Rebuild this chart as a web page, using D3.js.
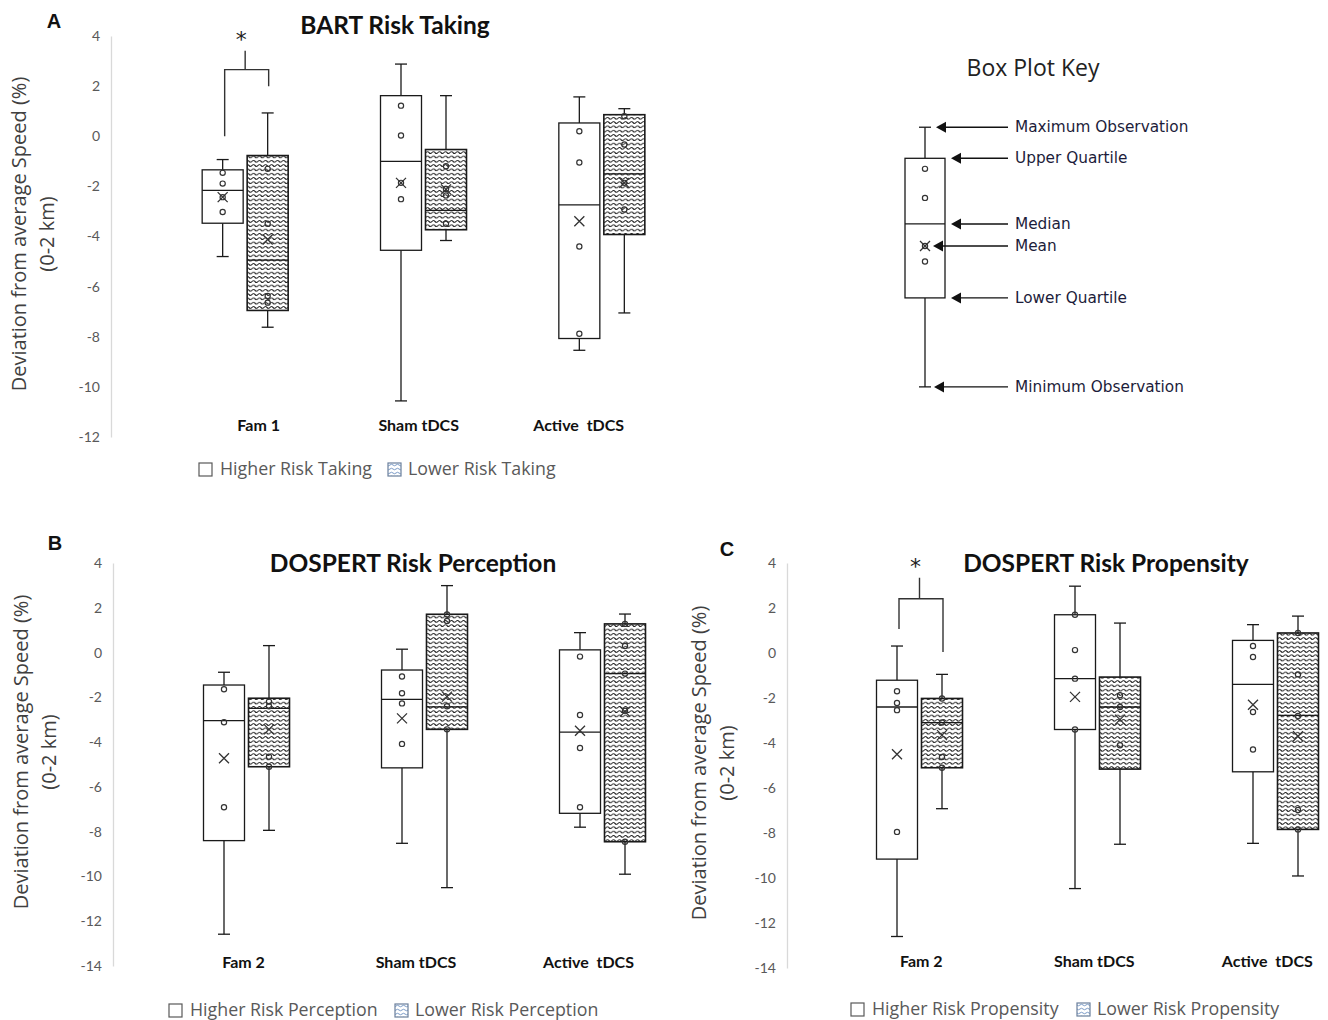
<!DOCTYPE html>
<html><head><meta charset="utf-8">
<script src="https://cdn.jsdelivr.net/npm/d3@7"></script>
<style>body{margin:0;background:#fff}</style>
</head><body>
<script>
// ---------- DATA ----------
// stats rows: [min, lowerQuartile, median, upperQuartile, max, mean]
const bartCategories = ["Fam 1", "Sham tDCS", "Active  tDCS"];
const bartHigherStats = [[-4.8,-3.47,-2.16,-1.34,-0.93,-2.43],[-10.56,-4.55,-1.0,1.62,2.88,-1.86],[-8.54,-8.07,-2.74,0.53,1.57,-3.39]];
const bartHigherPoints = [[-1.46,-1.89,-2.43,-3.02],[1.22,0.03,-1.86,-2.51],[0.2,-1.05,-4.4,-7.88]];
const bartLowerStats = [[-7.62,-6.95,-4.94,-0.77,0.93,-4.12],[-4.16,-3.73,-2.96,-0.53,1.62,-2.12],[-7.05,-3.92,-1.5,0.86,1.1,-1.86]];
const bartLowerPoints = [[-1.3,-3.49,-6.37,-6.64],[-1.2,-2.1,-2.36,-3.49],[0.8,-0.33,-1.86,-2.92]];
const bartBracket = [0, 2.0, 2.66, 3.41]; // leftBottom, rightBottom, top, stemTop
const bartTicks = [4,2,0,-2,-4,-6,-8,-10,-12];

const percCategories = ["Fam 2", "Sham tDCS", "Active  tDCS"];
const percHigherStats = [[-12.58,-8.4,-3.04,-1.45,-0.88,-4.72],[-8.52,-5.15,-2.09,-0.78,0.15,-2.94],[-7.8,-7.18,-3.55,0.12,0.89,-3.49]];
const percHigherPoints = [[-1.64,-3.11,-6.91],[-1.07,-1.82,-2.27,-4.08],[-0.18,-2.79,-4.26,-6.91]];
const percLowerStats = [[-7.94,-5.1,-2.49,-2.04,0.31,-3.43],[-10.5,-3.43,-2.43,1.71,2.99,-1.97],[-9.9,-8.45,-0.94,1.28,1.72,-2.64]];
const percLowerPoints = [[-2.19,-2.4,-4.65,-5.1],[1.7,1.41,-2.4,-3.43],[1.28,0.29,-0.94,-2.6,-8.45]];
const percTicks = [4,2,0,-2,-4,-6,-8,-10,-12,-14];

const propCategories = ["Fam 2", "Sham tDCS", "Active  tDCS"];
const propHigherStats = [[-12.6,-9.16,-2.4,-1.21,0.31,-4.5],[-10.47,-3.4,-1.14,1.7,2.97,-1.95],[-8.46,-5.28,-1.39,0.56,1.26,-2.3]];
const propHigherPoints = [[-1.7,-2.22,-2.54,-7.95],[1.7,0.13,-1.14,-3.4],[0.31,-0.18,-2.62,-4.29]];
const propLowerStats = [[-6.92,-5.1,-3.09,-2.02,-0.95,-3.65],[-8.5,-5.16,-2.4,-1.07,1.33,-2.96],[-9.91,-7.84,-2.77,0.89,1.64,-3.7]];
const propLowerPoints = [[-2.02,-3.09,-4.62,-5.1],[-1.88,-2.4,-4.1],[0.89,-0.95,-2.8,-6.98,-7.84]];
const propBracket = [1.07, 0.05, 2.41, 3.35];
const propTicks = [4,2,0,-2,-4,-6,-8,-10,-12,-14];

const keyStats = [-10.0,-6.45,-3.5,-0.88,0.36,-4.38];
const keyPoints = [-1.3,-2.46,-4.38,-5.0];
const keyLabels = ["Maximum Observation","Upper Quartile","Median","Mean","Lower Quartile","Minimum Observation"];

// ---------- DRAW ----------
const W = 1328, H = 1020;
const svg = d3.select("body").append("svg").attr("width", W).attr("height", H)
  .style("font-family", "'Open Sans', sans-serif");
svg.append("rect").attr("width", W).attr("height", H).attr("fill", "#fff");

const defs = svg.append("defs");
const pat = defs.append("pattern").attr("id", "wave").attr("patternUnits", "userSpaceOnUse")
  .attr("width", 6).attr("height", 4.3);
pat.append("rect").attr("width", 6).attr("height", 4.3).attr("fill", "#fff");
pat.append("path").attr("d", "M0,2.15 Q1.5,0.4 3,2.15 T6,2.15").attr("fill", "none")
  .attr("stroke", "#1a1a1a").attr("stroke-width", 1.0);
const pat2 = defs.append("pattern").attr("id", "waveLegend").attr("patternUnits", "userSpaceOnUse")
  .attr("width", 6).attr("height", 4);
pat2.append("rect").attr("width", 6).attr("height", 4).attr("fill", "#fff");
pat2.append("path").attr("d", "M0,2 Q1.5,0.5 3,2 T6,2").attr("fill", "none")
  .attr("stroke", "#6a8fc0").attr("stroke-width", 0.9);

function drawBox(g, cx, y, s, pts, hatched, bw) {
  const [mn, q1, md, q3, mx, mean] = s;
  const cap = 6;
  const line = (x1, y1, x2, y2, w) => g.append("line").attr("x1", x1).attr("y1", y1).attr("x2", x2).attr("y2", y2)
    .attr("stroke", "#1a1a1a").attr("stroke-width", w || 1.3);
  line(cx, y(mx), cx, y(q3)); line(cx - cap, y(mx), cx + cap, y(mx));
  line(cx, y(q1), cx, y(mn)); line(cx - cap, y(mn), cx + cap, y(mn));
  g.append("rect").attr("x", cx - bw / 2).attr("y", y(q3)).attr("width", bw).attr("height", y(q1) - y(q3))
    .attr("fill", hatched ? "url(#wave)" : "#fff").attr("stroke", "#1a1a1a").attr("stroke-width", hatched ? 1.6 : 1.3);
  line(cx - bw / 2, y(md), cx + bw / 2, y(md));
  pts.forEach(p => g.append("circle").attr("cx", cx).attr("cy", y(p)).attr("r", 2.6)
    .attr("fill", "none").attr("stroke", "#333").attr("stroke-width", 1.2));
  const m = 5, my = y(mean);
  g.append("path").attr("d", `M${cx - m},${my - m}L${cx + m},${my + m}M${cx - m},${my + m}L${cx + m},${my - m}`)
    .attr("stroke", "#333").attr("stroke-width", 1.3);
}

function drawPanel(cfg) {
  const g = svg.append("g");
  const y = d3.scaleLinear().domain(cfg.yDomain).range(cfg.yRange);
  const x = d3.scalePoint().domain(cfg.categories).range(cfg.xRange).padding(0.5);
  const xl = d3.scalePoint().domain(cfg.categories).range(cfg.labelRange).padding(0.5);
  const off = 22.5, bw = 41;
  // axis
  const ax = g.append("g").attr("transform", `translate(${cfg.axisX},0)`)
    .call(d3.axisLeft(y).tickValues(cfg.ticks).tickSize(0).tickSizeOuter(0).tickPadding(11).tickFormat(d => String(d)));
  ax.select(".domain").attr("stroke", "#d9d9d9").attr("stroke-width", 1.3);
  ax.selectAll("text").attr("fill", "#595959").style("font-size", "14px").style("font-family", "Lato, sans-serif");
  // boxes
  cfg.categories.forEach((c, i) => {
    drawBox(g, x(c) - off, y, cfg.higherStats[i], cfg.higherPoints[i], false, bw);
    drawBox(g, x(c) + off, y, cfg.lowerStats[i], cfg.lowerPoints[i], true, bw);
  });
  // category labels
  g.selectAll(".cat").data(cfg.categories).join("text")
    .attr("x", d => xl(d)).attr("y", cfg.labelY).attr("text-anchor", "middle")
    .style("font-family", "Lato, sans-serif").style("font-weight", "700").style("font-size", "16px")
    .attr("fill", "#111").style("white-space", "pre").text(d => d);
  // title
  g.append("text").attr("x", cfg.titleX).attr("y", cfg.titleY).attr("text-anchor", "middle")
    .style("font-family", "Lato, sans-serif").style("font-weight", "700").style("font-size", "24.5px")
    .attr("fill", "#111").text(cfg.title);
  // panel letter
  g.append("text").attr("x", cfg.letterX).attr("y", cfg.letterY).attr("text-anchor", "middle")
    .style("font-family", "'Liberation Sans', Arial, sans-serif").style("font-weight", "700").style("font-size", "20px")
    .attr("fill", "#111").text(cfg.letter);
  // y title
  const yt = g.append("text").attr("transform", `translate(${cfg.yTitleX},${cfg.yTitleY}) rotate(-90)`)
    .attr("text-anchor", "middle").attr("fill", "#404040").style("font-size", "20px");
  yt.append("tspan").attr("x", 0).attr("dy", 0).text("Deviation from average Speed (%)");
  yt.append("tspan").attr("x", 0).attr("dy", 28).text("(0-2 km)");
  // bracket
  if (cfg.bracket) {
    const c = cfg.categories[0];
    const [lb, rb, top, stem] = cfg.bracket;
    const xL = x(c) - off + 2, xR = x(c) + off + 1, xm = x(c);
    g.append("path").attr("d", `M${xL},${y(lb)}V${y(top)}H${xR}V${y(rb)}M${xm},${y(top)}V${y(stem)}`)
      .attr("fill", "none").attr("stroke", "#333").attr("stroke-width", 1.4);
    g.append("text").attr("x", xm - 4).attr("y", y(stem) - 4).attr("text-anchor", "middle")
      .style("font-family", "'DejaVu Sans', sans-serif").style("font-size", "22px").attr("fill", "#222").text("*");
  }
  // legend
  const lg = g.append("g").attr("transform", `translate(0,${cfg.legendY})`);
  lg.append("rect").attr("x", cfg.legendX[0]).attr("y", -12).attr("width", 13).attr("height", 13)
    .attr("fill", "#fff").attr("stroke", "#595959").attr("stroke-width", 1.2);
  lg.append("text").attr("x", cfg.legendX[0] + 21).attr("y", 0).attr("fill", "#595959").style("font-size", "17.8px").text(cfg.legend[0]);
  lg.append("rect").attr("x", cfg.legendX[1]).attr("y", -12).attr("width", 13).attr("height", 13)
    .attr("fill", "url(#waveLegend)").attr("stroke", "#6a7f9c").attr("stroke-width", 1.2);
  lg.append("text").attr("x", cfg.legendX[1] + 20).attr("y", 0).attr("fill", "#595959").style("font-size", "17.8px").text(cfg.legend[1]);
  return y;
}

const yA = drawPanel({
  categories: bartCategories, higherStats: bartHigherStats, higherPoints: bartHigherPoints,
  lowerStats: bartLowerStats, lowerPoints: bartLowerPoints, bracket: bartBracket, ticks: bartTicks,
  yDomain: [-12, 4], yRange: [437, 36], xRange: [156, 691], axisX: 111, labelRange: [178.7, 658.7],
  labelY: 431, title: "BART Risk Taking", titleX: 395, titleY: 34,
  letter: "A", letterX: 54, letterY: 28, yTitleX: 26, yTitleY: 234,
  legendY: 475, legendX: [199, 388], legend: ["Higher Risk Taking", "Lower Risk Taking"]
});
drawPanel({
  categories: percCategories, higherStats: percHigherStats, higherPoints: percHigherPoints,
  lowerStats: percLowerStats, lowerPoints: percLowerPoints, bracket: null, ticks: percTicks,
  yDomain: [-14, 4], yRange: [966, 563], xRange: [157.5, 691.5], axisX: 113, labelRange: [157.25, 674.75],
  labelY: 968, title: "DOSPERT Risk Perception", titleX: 413, titleY: 572,
  letter: "B", letterX: 55, letterY: 550, yTitleX: 28, yTitleY: 752,
  legendY: 1016, legendX: [169, 395], legend: ["Higher Risk Perception", "Lower Risk Perception"]
});
drawPanel({
  categories: propCategories, higherStats: propHigherStats, higherPoints: propHigherPoints,
  lowerStats: propLowerStats, lowerPoints: propLowerPoints, bracket: propBracket, ticks: propTicks,
  yDomain: [-14, 4], yRange: [968, 563], xRange: [830.5, 1364.5], axisX: 787, labelRange: [834.8, 1353.8],
  labelY: 967, title: "DOSPERT Risk Propensity", titleX: 1106, titleY: 572,
  letter: "C", letterX: 727, letterY: 556, yTitleX: 706, yTitleY: 763,
  legendY: 1015, legendX: [851, 1077], legend: ["Higher Risk Propensity", "Lower Risk Propensity"]
});

// ---------- Box plot key ----------
const kg = svg.append("g");
kg.append("text").attr("x", 1033).attr("y", 76).attr("text-anchor", "middle").attr("fill", "#222")
  .style("font-size", "23px").text("Box Plot Key");
const kx = 925;
drawBox(kg, kx, yA, keyStats, keyPoints, false, 40);
// arrow targets: max, q3, median, mean, q1, min
const keyVals = [keyStats[4], keyStats[3], keyStats[2], keyStats[5], keyStats[1], keyStats[0]];
const tipX = [936, 951, 951, 933, 951, 934];
keyVals.forEach((v, i) => {
  const yy = yA(v), tx = tipX[i];
  kg.append("line").attr("x1", tx + 8).attr("y1", yy).attr("x2", 1008).attr("y2", yy)
    .attr("stroke", "#111").attr("stroke-width", 1.4);
  kg.append("path").attr("d", `M${tx},${yy}L${tx + 10},${yy - 5.5}L${tx + 10},${yy + 5.5}Z`).attr("fill", "#111");
  kg.append("text").attr("x", 1015).attr("y", yy + 5).attr("fill", "#1c1c3a")
    .style("font-family", "'DejaVu Sans', sans-serif").style("font-size", "15.3px").text(keyLabels[i]);
});
</script>
</body></html>
